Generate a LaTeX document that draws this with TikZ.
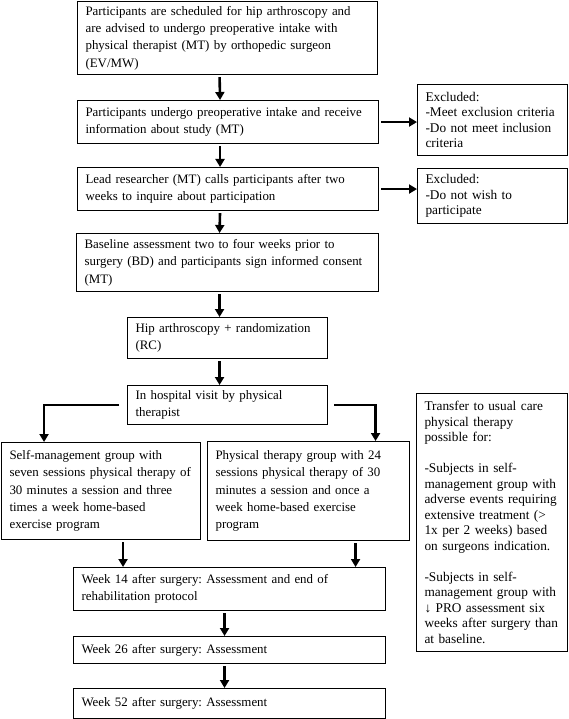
\documentclass[tikz,border=0pt]{standalone}
\usepackage{fontspec}
\setmainfont{Liberation Serif}
\usepackage{tikz}
\usetikzlibrary{arrows.meta}
\frenchspacing

\tikzset{
    stage/.style={draw, line width=1.1pt, anchor=north west, align=left,
        inner xsep=8pt, inner ysep=0pt, font=\fontsize{12.9}{17.3}\selectfont},
    note/.style={stage, font=\fontsize{13.3}{15.5}\selectfont},
    flow/.style={line width=2.6pt, -{Triangle[length=8pt,width=9pt]}, shorten <=2pt}
}

\begin{document}
\begin{tikzpicture}[x=1pt, y=-1pt]
    \useasboundingbox (0,0) rectangle (568,719);

    \node[stage, text width=284pt, minimum width=300pt, minimum height=73pt] (sched) at (77,1)
        {Participants are scheduled for hip arthroscopy and\\
        are advised to undergo preoperative intake with\\
        physical therapist (MT) by orthopedic surgeon\\
        (EV/MW)};
    \node[stage, text width=285pt, minimum width=301pt, minimum height=43pt] (intake) at (77,100)
        {Participants undergo preoperative intake and receive\\
        information about study (MT)};
    \node[stage, text width=285pt, minimum width=301pt, minimum height=43pt] (calls) at (77,167)
        {Lead researcher (MT) calls participants after two\\
        weeks to inquire about participation};
    \node[stage, text width=286pt, minimum width=302pt, minimum height=58pt] (baseline) at (76,233)
        {Baseline assessment two to four weeks prior to\\
        surgery (BD) and participants sign informed consent\\
        (MT)};
    \node[stage, text width=184pt, minimum width=200pt, minimum height=41pt] (hip) at (127,317)
        {Hip arthroscopy + randomization\\
        (RC)};
    \node[stage, text width=184pt, minimum width=200pt, minimum height=39pt] (visit) at (127,385)
        {In hospital visit by physical\\
        therapist};
    \node[stage, text width=183pt, minimum width=199pt, minimum height=97pt] (self) at (1,442)
        {Self-management group with\\
        seven sessions physical therapy of\\
        30 minutes a session and three\\
        times a week home-based\\
        exercise program};
    \node[stage, text width=186pt, minimum width=202pt, minimum height=99pt] (ptgroup) at (207,441)
        {Physical therapy group with 24\\
        sessions physical therapy of 30\\
        minutes a session and once a\\
        week home-based exercise\\
        program};
    \node[stage, text width=296pt, minimum width=312pt, minimum height=43pt] (wk14) at (73,567)
        {Week 14 after surgery: Assessment and end of\\
        rehabilitation protocol};
    \node[stage, text width=296pt, minimum width=312pt, minimum height=27pt] (wk26) at (73,636)
        {Week 26 after surgery: Assessment};
    \node[stage, text width=296pt, minimum width=312pt, minimum height=30pt] (wk52) at (73,688)
        {Week 52 after surgery: Assessment};

    \node[note, text width=134pt, minimum width=150pt, minimum height=71pt] (excl1) at (417,84)
        {Excluded:\\
        -Meet exclusion criteria\\
        -Do not meet inclusion\\
        criteria};
    \node[note, text width=134pt, minimum width=150pt, minimum height=55pt] (excl2) at (417,168)
        {Excluded:\\
        -Do not wish to\\
        participate};
    \node[note, text width=135pt, minimum width=151pt, minimum height=258pt] (transfer) at (416,393)
        {Transfer to usual care\\
        physical therapy\\
        possible for:\\[15.5pt]
        -Subjects in self-\\
        management group with\\
        adverse events requiring\\
        extensive treatment (>\\
        1x per 2 weeks) based\\
        on surgeons indication.\\[15.5pt]
        -Subjects in self-\\
        management group with\\
        ↓ PRO assessment six\\
        weeks after surgery than\\
        at baseline.};

    \draw[flow] ([xshift=-8pt]sched.south) -- ([xshift=-8pt]intake.north);
    \draw[flow] ([xshift=-8pt]intake.south) -- ([xshift=-8pt]calls.north);
    \draw[flow] ([xshift=-8pt]calls.south) -- ([xshift=-8pt]baseline.north);
    \draw[flow] ([xshift=-8pt]baseline.south) -- ([xshift=-8pt]hip.north);
    \draw[flow] ([xshift=-8pt]hip.south) -- ([xshift=-8pt]visit.north);

    \draw[flow] (intake.east) -- (excl1.west |- intake.east);
    \draw[flow] (calls.east) -- (excl2.west |- calls.east);

    \draw[flow] ([xshift=-6pt]visit.west) -| ([xshift=-57pt]self.north);
    \draw[flow] ([xshift=4pt]visit.east) -| ([xshift=67pt]ptgroup.north);

    \coordinate (selfout) at ([xshift=22pt]self.south);
    \coordinate (ptout) at ([xshift=47pt]ptgroup.south);
    \draw[flow] (selfout) -- (selfout |- wk14.north);
    \draw[flow] (ptout) -- (ptout |- wk14.north);

    \draw[flow] ([xshift=-5pt]wk14.south) -- ([xshift=-5pt]wk26.north);
    \draw[flow] ([xshift=-5pt]wk26.south) -- ([xshift=-5pt]wk52.north);
\end{tikzpicture}
\end{document}
